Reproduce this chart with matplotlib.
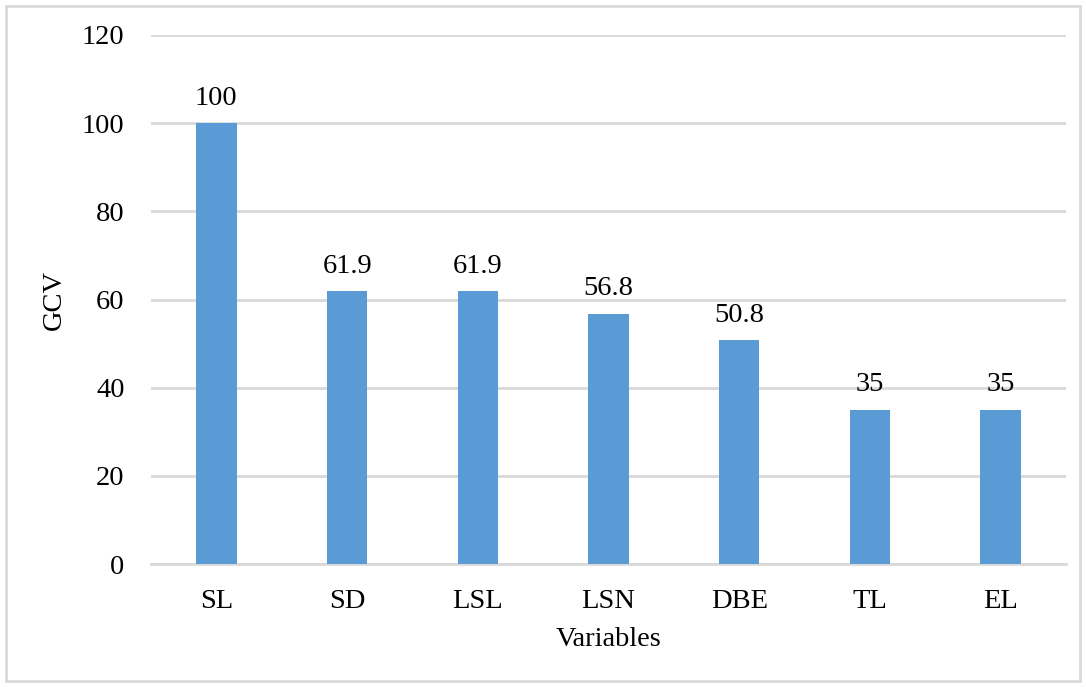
import matplotlib.pyplot as plt
from matplotlib.patches import Rectangle

# --- DATA ---
variables = ["SL", "SD", "LSL", "LSN", "DBE", "TL", "EL"]
gcv = [100, 61.9, 61.9, 56.8, 50.8, 35, 35]
value_labels = ["100", "61.9", "61.9", "56.8", "50.8", "35", "35"]
y_ticks = [0, 20, 40, 60, 80, 100, 120]

BAR_COLOR = "#5B9BD5"
GRID_COLOR = "#D9D9D9"
FS = 20.5

plt.rcParams["font.family"] = ["Liberation Serif", "DejaVu Serif"]

fig = plt.figure(figsize=(10.86, 6.87), dpi=100)
ax = fig.add_axes([151 / 1086, 1 - 564 / 687, (1066 - 151) / 1086, (564 - 35) / 687])

x = range(len(variables))
bars = ax.bar(x, gcv, width=0.31, color=BAR_COLOR, zorder=3)

for b, lab in zip(bars, value_labels):
    ax.annotate(lab, (b.get_x() + b.get_width() / 2, b.get_height()),
                xytext=(0, 9), textcoords="offset points",
                ha="center", va="bottom", fontsize=FS, color="black")

ax.set_xlim(-0.5, len(variables) - 0.5)
ax.set_ylim(0, 120)
ax.set_yticks(y_ticks)
ax.set_xticks(list(x))
ax.set_xticklabels(variables)
ax.tick_params(axis="both", length=0, labelsize=FS, colors="black")
ax.tick_params(axis="y", pad=19)
ax.tick_params(axis="x", pad=18)

ax.grid(axis="y", color=GRID_COLOR, linewidth=2, zorder=0)
for side in ["top", "right", "left"]:
    ax.spines[side].set_visible(False)
ax.spines["bottom"].set_color(GRID_COLOR)
ax.spines["bottom"].set_linewidth(2)

ax.set_ylabel("GCV", fontsize=FS, labelpad=11)
ax.set_xlabel("Variables", fontsize=FS, labelpad=9)

# light frame around the whole chart
fig.patches.append(Rectangle((6 / 1086, 6 / 687), 1 - 12 / 1086, 1 - 12 / 687,
                             transform=fig.transFigure, fill=False,
                             edgecolor="#D9D9D9", linewidth=2))

fig.savefig("out.png", dpi=100)
